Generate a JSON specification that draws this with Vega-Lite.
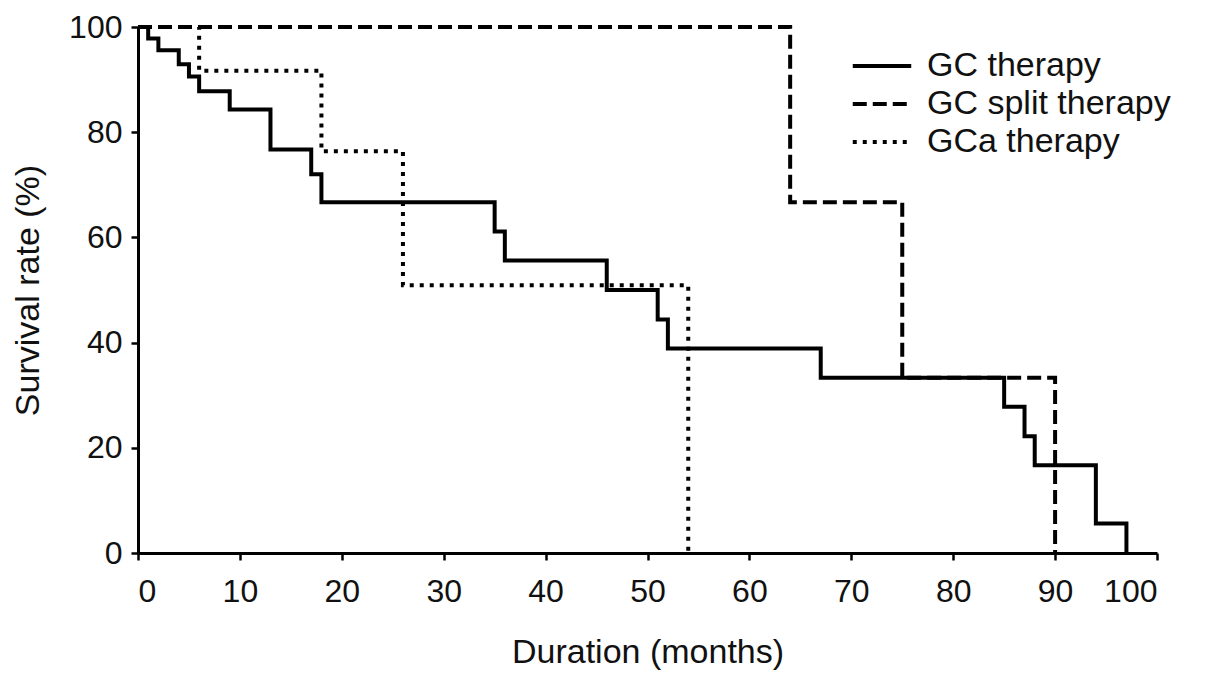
{
  "$schema": "https://vega.github.io/schema/vega-lite/v6.json",
  "width": 1019,
  "height": 526,
  "autosize": {"type": "none"},
  "padding": {"left": 138, "top": 27, "right": 48, "bottom": 131},
  "background": "white",
  "config": {
    "view": {"stroke": null},
    "font": "Liberation Sans",
    "axis": {
      "grid": false,
      "domainColor": "black",
      "domainWidth": 3,
      "tickColor": "black",
      "tickWidth": 2.5,
      "tickSize": 7,
      "labelColor": "#111",
      "labelFontSize": 32,
      "labelFont": "Liberation Sans",
      "titleFont": "Liberation Sans",
      "titleFontSize": 34,
      "titleFontWeight": "normal",
      "titleColor": "#111"
    }
  },
  "data": {
    "values": [
      {"group": "GCa therapy", "t": 0, "s": 100},
      {"group": "GCa therapy", "t": 6, "s": 91.7},
      {"group": "GCa therapy", "t": 18, "s": 76.4},
      {"group": "GCa therapy", "t": 26, "s": 50.9},
      {"group": "GCa therapy", "t": 54, "s": 0},
      {"group": "GC split therapy", "t": 0, "s": 100},
      {"group": "GC split therapy", "t": 64, "s": 66.7},
      {"group": "GC split therapy", "t": 75, "s": 33.3},
      {"group": "GC split therapy", "t": 90, "s": 0},
      {"group": "GC therapy", "t": 0, "s": 100},
      {"group": "GC therapy", "t": 1, "s": 97.8},
      {"group": "GC therapy", "t": 2, "s": 95.6},
      {"group": "GC therapy", "t": 4, "s": 92.9},
      {"group": "GC therapy", "t": 5, "s": 90.6},
      {"group": "GC therapy", "t": 6, "s": 87.8},
      {"group": "GC therapy", "t": 9, "s": 84.3},
      {"group": "GC therapy", "t": 13, "s": 76.7},
      {"group": "GC therapy", "t": 17, "s": 72.0},
      {"group": "GC therapy", "t": 18, "s": 66.7},
      {"group": "GC therapy", "t": 35, "s": 61.1},
      {"group": "GC therapy", "t": 36, "s": 55.6},
      {"group": "GC therapy", "t": 46, "s": 50.0},
      {"group": "GC therapy", "t": 51, "s": 44.4},
      {"group": "GC therapy", "t": 52, "s": 38.9},
      {"group": "GC therapy", "t": 67, "s": 33.3},
      {"group": "GC therapy", "t": 85, "s": 27.8},
      {"group": "GC therapy", "t": 87, "s": 22.2},
      {"group": "GC therapy", "t": 88, "s": 16.7},
      {"group": "GC therapy", "t": 94, "s": 5.6},
      {"group": "GC therapy", "t": 97, "s": 0}
    ]
  },
  "mark": {"type": "line", "interpolate": "step-after", "strokeWidth": 4, "color": "black", "strokeCap": "butt"},
  "encoding": {
    "x": {
      "field": "t", "type": "quantitative",
      "scale": {"domain": [0, 100], "nice": false, "zero": true},
      "axis": {"values": [0,10,20,30,40,50,60,70,80,90,100], "title": "Duration (months)", "labelPadding": 16, "titlePadding": 28}
    },
    "y": {
      "field": "s", "type": "quantitative",
      "scale": {"domain": [0, 100], "nice": false},
      "axis": {"values": [0,20,40,60,80,100], "title": "Survival rate (%)", "labelPadding": 9, "titlePadding": 23}
    },
    "strokeDash": {
      "field": "group", "type": "nominal",
      "sort": ["GC therapy", "GC split therapy", "GCa therapy"],
      "scale": {"domain": ["GC therapy", "GC split therapy", "GCa therapy"], "range": [[1, 0], [14, 6], [4, 6]]},
      "legend": {
        "title": null,
        "orient": "none",
        "legendX": 727,
        "legendY": 22,
        "symbolType": "M-3,0H3",
        "symbolSize": 380,
        "symbolStrokeWidth": 4,
        "symbolStrokeColor": "black",
        "symbolFillColor": "transparent",
        "labelFontSize": 34,
        "labelFont": "Liberation Sans",
        "labelColor": "#111",
        "labelOffset": 28,
        "labelLimit": 500,
        "rowPadding": 4
      }
    },
    "order": {"field": "t"}
  }
}
